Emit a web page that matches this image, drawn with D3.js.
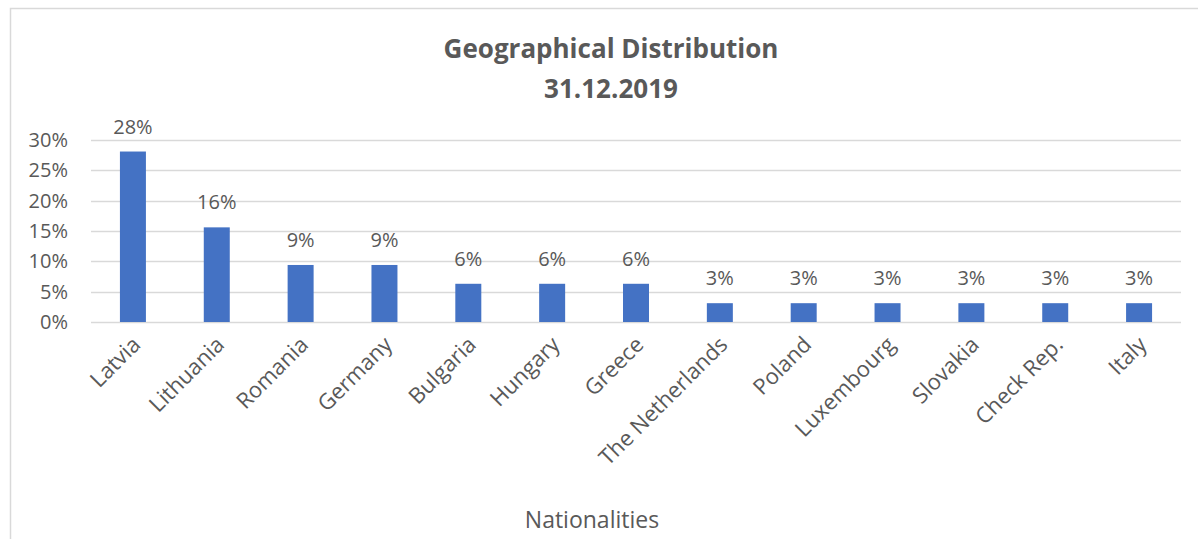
<!DOCTYPE html>
<html>
<head>
<meta charset="utf-8">
<script src="https://cdn.jsdelivr.net/npm/d3@7"></script>
<style>
  body { margin: 0; background: #fff; }
  svg text { font-family: "Open Sans", sans-serif; fill: #595959; }
</style>
</head>
<body>
<div id="chart"></div>
<script>
// Data
const countries = ["Latvia", "Lithuania", "Romania", "Germany", "Bulgaria", "Hungary", "Greece",
  "The Netherlands", "Poland", "Luxembourg", "Slovakia", "Check Rep.", "Italy"];
const shares = [0.281, 0.156, 0.094, 0.094, 0.063, 0.063, 0.063, 0.031, 0.031, 0.031, 0.031, 0.031, 0.031];
const yTicks = [0, 0.05, 0.10, 0.15, 0.20, 0.25, 0.30];
const titleLines = ["Geographical Distribution", "31.12.2019"];
const xTitle = "Nationalities";

const width = 1198, height = 539;
const margin = { left: 91, right: 17, top: 140, bottom: 539 - 322 };

const svg = d3.select("#chart").append("svg")
    .attr("width", width)
    .attr("height", height);

// chart frame
svg.append("rect")
    .attr("x", 10.5).attr("y", 8.5)
    .attr("width", 1200).attr("height", 560)
    .attr("fill", "none")
    .attr("stroke", "#d9d9d9")
    .attr("stroke-width", 1.5);

const x = d3.scaleBand()
    .domain(countries)
    .range([margin.left, width - margin.right])
    .paddingInner(0.69)
    .paddingOuter(0.345);

const y = d3.scaleLinear()
    .domain([0, 0.30])
    .range([height - margin.bottom, margin.top]);

// gridlines
svg.append("g")
    .selectAll("line")
    .data(yTicks)
    .join("line")
    .attr("x1", margin.left)
    .attr("x2", width - margin.right)
    .attr("y1", d => Math.round(y(d)) + 0.5)
    .attr("y2", d => Math.round(y(d)) + 0.5)
    .attr("stroke", "#d9d9d9")
    .attr("stroke-width", 1.5);

// y axis labels
const yAxis = svg.append("g")
    .attr("transform", `translate(${margin.left},0)`)
    .call(d3.axisLeft(y).tickValues(yTicks).tickFormat(d3.format(".0%")).tickSize(0).tickPadding(23));
yAxis.select(".domain").remove();
yAxis.selectAll("text")
    .style("font-family", '"Open Sans", sans-serif')
    .style("font-size", "20px")
    .attr("fill", "#595959");

// bars
svg.append("g")
    .selectAll("rect")
    .data(shares)
    .join("rect")
    .attr("x", (d, i) => x(countries[i]))
    .attr("width", x.bandwidth())
    .attr("y", d => y(d))
    .attr("height", d => y(0) - y(d))
    .attr("fill", "#4472c4");

// data labels
svg.append("g")
    .selectAll("text")
    .data(shares)
    .join("text")
    .attr("x", (d, i) => x(countries[i]) + x.bandwidth() / 2)
    .attr("y", d => y(d) - 18)
    .attr("text-anchor", "middle")
    .style("font-size", "20px")
    .text(d => d3.format(".0%")(d));

// category labels
svg.append("g")
    .selectAll("text")
    .data(countries)
    .join("text")
    .attr("text-anchor", "end")
    .attr("transform", d => `translate(${x(d) + x.bandwidth() / 2 + 9},${y(0) + 24}) rotate(-45)`)
    .style("font-size", "22px")
    .text(d => d);

// title
svg.append("g")
    .selectAll("text")
    .data(titleLines)
    .join("text")
    .attr("x", 611)
    .attr("y", (d, i) => 58 + i * 40)
    .attr("text-anchor", "middle")
    .style("font-size", "26px")
    .style("font-weight", "bold")
    .text(d => d);

// axis title
svg.append("text")
    .attr("x", 592)
    .attr("y", 528)
    .attr("text-anchor", "middle")
    .style("font-size", "23px")
    .text(xTitle);
</script>
</body>
</html>
